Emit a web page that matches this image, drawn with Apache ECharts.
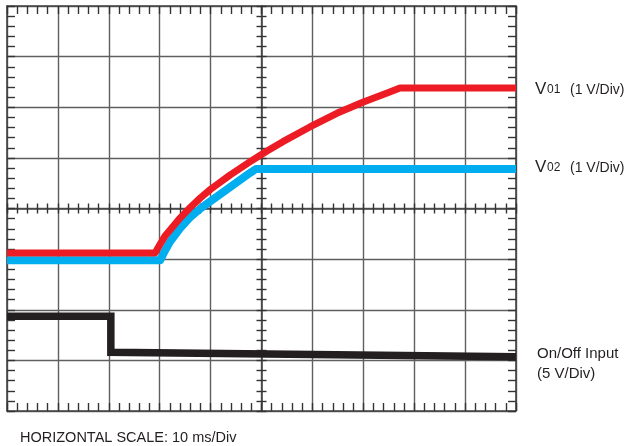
<!DOCTYPE html>
<html>
<head>
<meta charset="utf-8">
<script src="https://cdn.jsdelivr.net/npm/echarts@6/dist/echarts.min.js"></script>
<style>
html,body{margin:0;padding:0;background:#fff;}
#chart{width:627px;height:446px;}
</style>
</head>
<body>
<div id="chart"></div>
<script>
// Time in ms (10 ms/div), vertical in divisions (0 = bottom edge, 8 = top edge)
const v01 = [[0,3.12],[29.1,3.12],[30.1,3.30],[31,3.45],[32,3.57],[34,3.81],[36,4.02],[38,4.21],[40,4.38],[43.8,4.66],[47.7,4.92],[51,5.13],[54.2,5.32],[59.5,5.61],[64.8,5.88],[69.9,6.10],[75.2,6.30],[77.2,6.38],[100,6.38]];
const v02 = [[0,2.98],[30.1,2.98],[31,3.16],[32,3.34],[34,3.61],[36,3.83],[38,4.00],[39.9,4.14],[43.8,4.42],[47.7,4.70],[48.9,4.78],[100,4.78]];
const onOff = [[0,1.87],[20.4,1.87],[20.4,1.16],[100,1.07]];
const xRange = [0, 100, 10];
const yRange = [0, 8, 1];
const horizontalNote = 'HORIZONTAL SCALE: 10 ms/Div';
const onOffLabel = ['On/Off Input', '(5 V/Div)'];
const voltLabel = ['V', '01', '02', '(1 V/Div)'];

const chart = echarts.init(document.getElementById('chart'), null, {renderer:'canvas'});
const lineCol = '#444';
const gridCol = '#5f5f5f';

function xAx(pos, offset, inside, len, split, showLine){
  return {type:'value', min:xRange[0], max:xRange[1], interval:xRange[2], position:pos, offset:offset,
    axisLine:{show:showLine, onZero:false, lineStyle:{color:lineCol, width:1.6}},
    axisTick:{show:true, inside:inside, length:len, lineStyle:{color:'#333', width:1.4}},
    minorTick:{show:true, splitNumber:5, length:len, lineStyle:{color:'#333', width:1.4}},
    axisLabel:{show:false},
    splitLine:{show:split, lineStyle:{color:gridCol, width:1.4}}};
}
function yAx(pos, offset, inside, len, split, showLine){
  return {type:'value', min:yRange[0], max:yRange[1], interval:yRange[2], position:pos, offset:offset,
    axisLine:{show:showLine, onZero:false, lineStyle:{color:lineCol, width:1.6}},
    axisTick:{show:true, inside:inside, length:len, lineStyle:{color:'#333', width:1.4}},
    minorTick:{show:true, splitNumber:5, length:len, lineStyle:{color:'#333', width:1.4}},
    axisLabel:{show:false},
    splitLine:{show:split, lineStyle:{color:gridCol, width:1.4}}};
}

const gh = 405, gw = 509;
const font = 'Liberation Sans, Arial, sans-serif';
const ink = '#231F20';

chart.setOption({
  animation:false,
  backgroundColor:'#fff',
  grid:{left:7, top:6, width:gw, height:gh, show:false},
  xAxis:[
    xAx('bottom', 0, true, 8, true, true),
    xAx('top', 0, true, 8, false, true),
    xAx('bottom', -gh/2, true, 5, false, true),
    xAx('bottom', -gh/2, false, 5, false, false)
  ],
  yAxis:[
    yAx('left', 0, true, 8, true, true),
    yAx('right', 0, true, 8, false, true),
    yAx('left', -gw/2, true, 5, false, true),
    yAx('left', -gw/2, false, 5, false, false)
  ],
  series:[
    {type:'line', data:v02, showSymbol:false, xAxisIndex:0, yAxisIndex:0,
     lineStyle:{color:'#00AEEF', width:8, cap:'butt', join:'round'}},
    {type:'line', data:v01, showSymbol:false, xAxisIndex:0, yAxisIndex:0,
     lineStyle:{color:'#ED1C24', width:7, cap:'butt', join:'round'}},
    {type:'line', data:onOff, showSymbol:false, xAxisIndex:0, yAxisIndex:0,
     lineStyle:{color:'#231F20', width:7.5, cap:'butt', join:'miter'}}
  ],
  graphic:[
    {type:'text', left:535, top:81, style:{text:voltLabel[0], font:'17px '+font, fill:ink}},
    {type:'text', left:547, top:84, style:{text:voltLabel[1], font:'12px '+font, fill:ink}},
    {type:'text', left:570, top:83, style:{text:voltLabel[3], font:'14px '+font, fill:ink}},
    {type:'text', left:535, top:159, style:{text:voltLabel[0], font:'17px '+font, fill:ink}},
    {type:'text', left:547, top:162, style:{text:voltLabel[2], font:'12px '+font, fill:ink}},
    {type:'text', left:570, top:161, style:{text:voltLabel[3], font:'14px '+font, fill:ink}},
    {type:'text', left:537, top:346, style:{text:onOffLabel[0], font:'15px '+font, fill:ink}},
    {type:'text', left:537, top:366, style:{text:onOffLabel[1], font:'15px '+font, fill:ink}},
    {type:'text', left:20, top:430, style:{text:horizontalNote, font:'14.5px '+font, fill:ink}}
  ]
});
</script>
</body>
</html>
